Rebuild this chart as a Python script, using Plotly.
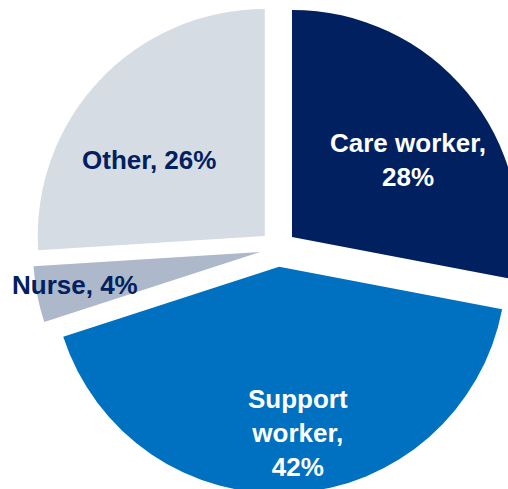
import plotly.graph_objects as go

# Workforce composition by role
roles = ["Care worker", "Support worker", "Nurse", "Other"]
shares = [28, 42, 4, 26]
label_lines = ["Care worker,<br>{}%", "Support<br>worker,<br>{}%", "Nurse, {}%", "Other, {}%"]

slice_colors = ["#002060", "#0070C0", "#ADB9CA", "#D6DCE4"]
text_colors = ["#FFFFFF", "#FFFFFF", "#002060", "#002060"]

# Canvas is slightly larger than the viewport so the exploded pie bleeds off the right/bottom edge
W, H = 524, 494
label_pos_px = [(408, 160), (298, 433), (75, 285), (149, 160)]

fig = go.Figure(
    go.Pie(
        labels=roles,
        values=shares,
        sort=False,
        direction="clockwise",
        rotation=0,
        pull=[0.08] * len(roles),
        marker=dict(colors=slice_colors, line=dict(width=0)),
        textinfo="none",
        hoverinfo="label+percent",
        domain=dict(x=[(278 - 245.2) / W, (278 + 245.2) / W],
                    y=[1 - (248.5 + 245.2) / H, 1 - (248.5 - 245.2) / H]),
    )
)

for role, share, tmpl, tc, (px, py) in zip(roles, shares, label_lines, text_colors, label_pos_px):
    fig.add_annotation(
        x=px / W, y=1 - py / H, xref="paper", yref="paper",
        xanchor="center", yanchor="middle",
        text=tmpl.format(share), showarrow=False, align="center",
        font=dict(family="Arial, Liberation Sans, sans-serif", size=26, color=tc, weight="bold"),
    )

fig.update_layout(
    width=W, height=H,
    margin=dict(l=0, r=0, t=0, b=0),
    showlegend=False,
    paper_bgcolor="white",
    plot_bgcolor="white",
)

fig.write_html(
    "out.html",
    post_script="document.documentElement.style.overflow='hidden';document.body.style.overflow='hidden';document.body.style.margin='0';",
)
